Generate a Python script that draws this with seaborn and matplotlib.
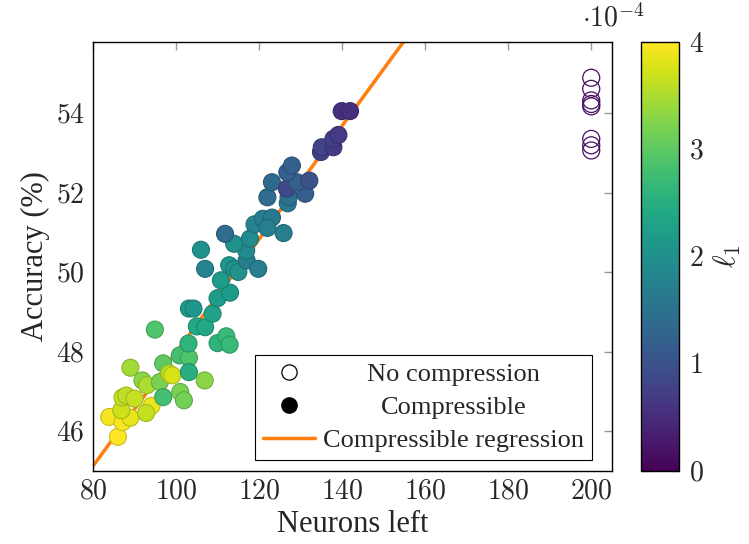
import numpy as np
import pandas as pd
import matplotlib
matplotlib.use('Agg')
import matplotlib.pyplot as plt
from matplotlib.ticker import FuncFormatter, MultipleLocator
import seaborn as sns

# Compressible runs: neurons left, accuracy (%), l1 penalty
neurons = [86.0, 83.9, 87.1, 89.0, 86.8, 94.1, 92.8, 87.1, 88.0, 90.0,
           89.0, 91.9, 93.0, 96.1, 96.9, 98.3, 99.1, 100.9, 103.1, 103.1,
           106.9, 96.9, 101.0, 101.9, 94.9, 103.0, 110.0, 112.1, 112.9, 105.0,
           107.0, 108.8, 103.1, 104.2, 110.0, 113.0, 110.8, 112.8, 114.0, 115.0,
           106.0, 107.0, 117.0, 116.9, 119.8, 114.0, 117.8, 111.8, 118.9, 120.9,
           123.1, 122.0, 125.9, 126.9, 127.1, 122.0, 123.1, 126.7, 131.1, 129.1,
           132.1, 126.8, 127.9, 134.9, 135.1, 137.9, 137.9, 139.1, 139.9, 141.9]
accuracy = [45.86, 46.36, 46.23, 46.34, 46.53, 46.64, 46.46, 46.85, 46.90, 46.82,
            47.60, 47.28, 47.16, 47.24, 47.71, 47.46, 47.41, 47.91, 47.85, 47.49,
            47.28, 46.86, 46.99, 46.78, 48.56, 48.21, 48.22, 48.39, 48.18, 48.64,
            48.62, 48.96, 49.09, 49.09, 49.35, 49.49, 49.80, 50.18, 50.09, 50.01,
            50.57, 50.09, 50.30, 50.55, 50.09, 50.72, 50.85, 50.97, 51.21, 51.35,
            51.38, 51.12, 50.99, 51.74, 51.89, 51.89, 52.27, 52.11, 51.98, 52.27,
            52.31, 52.52, 52.69, 53.03, 53.15, 53.15, 53.36, 53.46, 54.06, 54.06]
l1 = [4.00, 3.95, 3.95, 3.85, 3.70, 3.90, 3.65, 3.65, 3.60, 3.65,
      3.45, 3.30, 3.50, 3.20, 3.00, 3.55, 3.75, 2.80, 2.90, 2.50,
      3.30, 2.80, 3.20, 3.15, 2.90, 2.60, 2.60, 2.70, 2.70, 2.40,
      2.40, 2.30, 2.20, 2.10, 2.20, 2.20, 2.20, 2.10, 2.00, 2.00,
      2.00, 1.80, 1.70, 1.90, 1.70, 2.00, 1.90, 1.40, 1.80, 1.70,
      1.60, 1.70, 1.70, 1.60, 1.50, 1.40, 1.35, 0.90, 1.20, 1.20,
      1.00, 1.20, 1.20, 0.75, 0.80, 0.70, 0.75, 0.70, 0.55, 0.55]
l1 = [v * 1e-4 for v in l1]

# Uncompressed runs
nocomp_neurons = [200, 200, 200, 200, 200, 200, 200, 200]
nocomp_accuracy = [54.90, 54.62, 54.33, 54.24, 54.18, 53.36, 53.20, 53.07]
nocomp_l1 = 0.15e-4

# Regression line
reg_slope = 0.1428
reg_intercept = 33.70

df = pd.DataFrame({'neurons': neurons, 'accuracy': accuracy, 'l1': l1})

sns.set_style('white')
plt.rcParams['font.family'] = ['Liberation Serif', 'DejaVu Serif']
plt.rcParams['mathtext.fontset'] = 'cm'

cmap = plt.get_cmap('viridis')
norm = plt.Normalize(0, 4e-4)

fig = plt.figure(figsize=(7.49, 5.44), dpi=100)
ax = fig.add_axes([93 / 749, 1 - 471 / 544, (612 - 93) / 749, (471 - 42) / 544])

# regression line
xs = np.array([80, 205])
line, = ax.plot(xs, reg_intercept + reg_slope * xs, color='#ff7f0e', lw=2.5,
                zorder=1, label='Compressible regression')

sns.scatterplot(data=df, x='neurons', y='accuracy', hue='l1', palette='viridis',
                hue_norm=(0, 4e-4), s=150, legend=False, ax=ax, zorder=2,
                linewidth=0.8)
coll = ax.collections[-1]
fc = coll.get_facecolors()
ec = fc.copy()
ec[:, :3] *= 0.82
coll.set_edgecolors(ec)

ax.scatter(nocomp_neurons, nocomp_accuracy, s=150, facecolors='none',
           edgecolors=[cmap(norm(nocomp_l1))], linewidths=0.9, zorder=2)

ax.set_xlim(80, 205)
ax.set_ylim(45, 55.8)
ax.xaxis.set_major_locator(MultipleLocator(20))
ax.yaxis.set_major_locator(MultipleLocator(2))
fmt = FuncFormatter(lambda v, _: f'${v:g}$')
ax.xaxis.set_major_formatter(fmt)
ax.yaxis.set_major_formatter(fmt)
ax.tick_params(direction='in', length=6, width=1, color='#999999',
               top=True, right=True, labelsize=20, pad=6)
for sp in ax.spines.values():
    sp.set_color('black')
    sp.set_linewidth(1)
ax.set_xlabel('Neurons left', fontsize=22, labelpad=4)
ax.set_ylabel('Accuracy (%)', fontsize=22, labelpad=4)

# legend
h1 = plt.Line2D([], [], marker='o', ls='none', markersize=11,
                markerfacecolor='white', markeredgecolor='black', markeredgewidth=0.9)
h2 = plt.Line2D([], [], marker='o', ls='none', markersize=11,
                markerfacecolor='black', markeredgecolor='black')
leg = ax.legend([h1, h2, line], ['No compression', 'Compressible', 'Compressible regression'],
                loc='lower right', bbox_to_anchor=(0.962, 0.025), fontsize=19,
                frameon=True, fancybox=False, edgecolor='black', framealpha=1,
                borderpad=0.3, labelspacing=0.36, handlelength=2.0, handletextpad=0.3,
                borderaxespad=0.0)
leg.get_frame().set_linewidth(0.8)

# centre the legend texts in their column, like pgfplots does
fig.canvas.draw()
widths = [t.get_window_extent().width for t in leg.get_texts()]
for t, w in zip(leg.get_texts(), widths):
    t.set_x((max(widths) - w) / 2)

# colorbar
cax = fig.add_axes([641 / 749, 1 - 471 / 544, (679 - 641) / 749, (471 - 42) / 544])
sm = plt.cm.ScalarMappable(norm=norm, cmap=cmap)
cb = fig.colorbar(sm, cax=cax)
cb.set_ticks([0, 1e-4, 2e-4, 3e-4, 4e-4])
cb.ax.yaxis.set_major_formatter(FuncFormatter(lambda v, _: f'${v * 1e4:g}$'))
cb.ax.tick_params(direction='in', length=6, width=1, color='#999999',
                  left=True, right=True, labelsize=20, pad=7)
cb.outline.set_edgecolor('black')
cb.outline.set_linewidth(1)
cb.set_label(r'$\ell_1$', fontsize=22, labelpad=6)
fig.text(582 / 749, 1 - 18 / 544, r'$\cdot 10^{-4}$', fontsize=20, va='center')

fig.savefig('out.png', dpi=100)
